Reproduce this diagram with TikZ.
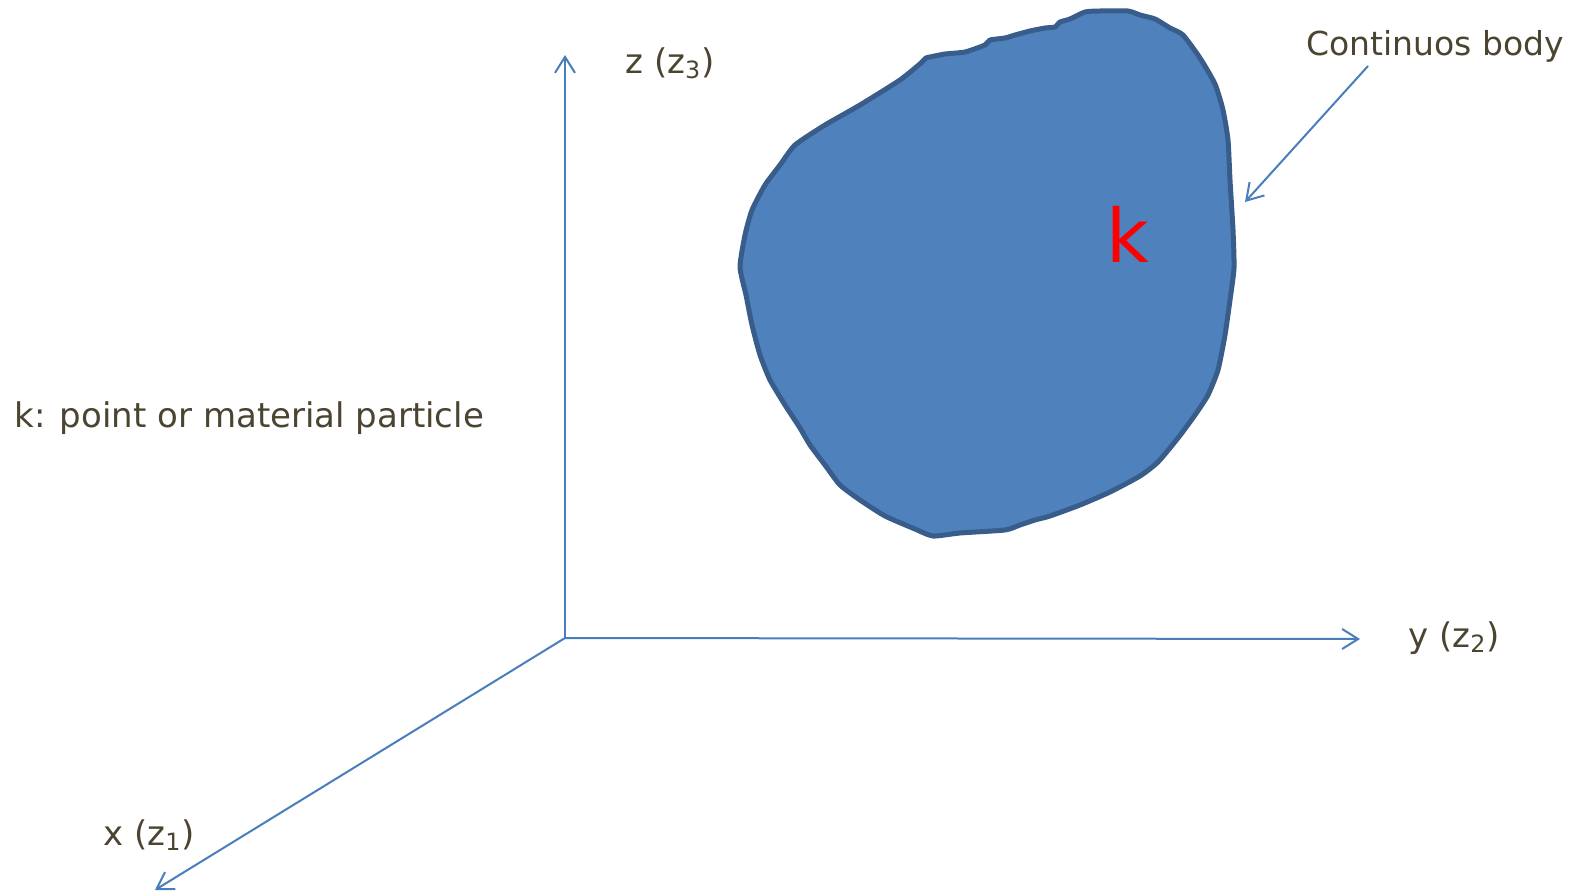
\documentclass[tikz,border=0pt]{standalone}
\usepackage{fontspec}
\setmainfont{DejaVu Sans}
\usetikzlibrary{arrows.meta}
\definecolor{txt}{HTML}{4A4430}
\definecolor{axis}{HTML}{4A7EBB}
\definecolor{bodyfill}{HTML}{4F81BD}
\definecolor{bodyline}{HTML}{385D8A}
\tikzset{
  axisline/.style={draw=axis, line width=1pt, -{Straight Barb[length=8pt,width=10pt,line width=1pt]}},
  lbl/.style={text=txt, font=\fontsize{17}{20}\selectfont, inner sep=0pt, anchor=base west},
}
\begin{document}
\begin{tikzpicture}[x=0.5pt,y=-0.5pt]
\useasboundingbox (0,0) rectangle (1570,894);
% body
\draw[fill=bodyfill, draw=bodyline, line width=2.5pt, line join=round]
  plot[smooth, tension=0.35] coordinates {
  (921,63) (926,58) (930,57) (945,54) (965,52) (985,45) (990,40) (1005,38) (1015,35)
  (1030,31) (1045,28) (1055,27) (1060,22) (1070,19) (1085,12) (1100,11) (1128,11)
  (1140,15) (1155,19) (1170,28) (1183,35) (1200,58) (1215,84) (1223,110) (1228,140)
  (1230,180) (1233,230) (1234,268) (1230,300) (1225,335) (1218,370) (1208,395)
  (1195,415) (1178,438) (1158,462) (1140,476) (1110,492) (1080,505) (1050,516)
  (1035,520) (1020,525) (1005,530) (960,533) (933,536) (915,529) (885,516) (860,500)
  (840,485) (825,465) (810,445) (800,428) (785,405) (770,380) (760,355) (752,325)
  (746,295) (740,267) (745,235) (752,210) (765,185) (780,165) (795,145) (825,125)
  (860,105) (900,80) (921,63)};
\node[text=red, font=\fontsize{37}{40}\selectfont, inner sep=0pt, anchor=base] (k) at (1128,262) {k};
% axes
\coordinate (O) at (565,638);
\coordinate (zend) at (565,55);
\coordinate (yend) at (1360,639);
\coordinate (xend) at (155,890);
\draw[axisline] (O) -- (zend);
\draw[axisline] (O) -- (yend);
\draw[axisline] (O) -- (xend);
% labels
\node[lbl] (zl) at (625,73) {z (z\textsubscript{3})};
\node[lbl] (yl) at (1408,647) {y (z\textsubscript{2})};
\node[lbl] (xl) at (103,845) {x (z\textsubscript{1})};
\node[lbl] (kl) at (14,427) {k: point or material particle};
\node[lbl, font=\fontsize{16.5}{20}\selectfont] (cb) at (1306,55) {Continuos body};
\coordinate (cbs) at (1368,66);
\coordinate (cbe) at (1245,202);
\draw[axisline] (cbs) -- (cbe);
\end{tikzpicture}
\end{document}
